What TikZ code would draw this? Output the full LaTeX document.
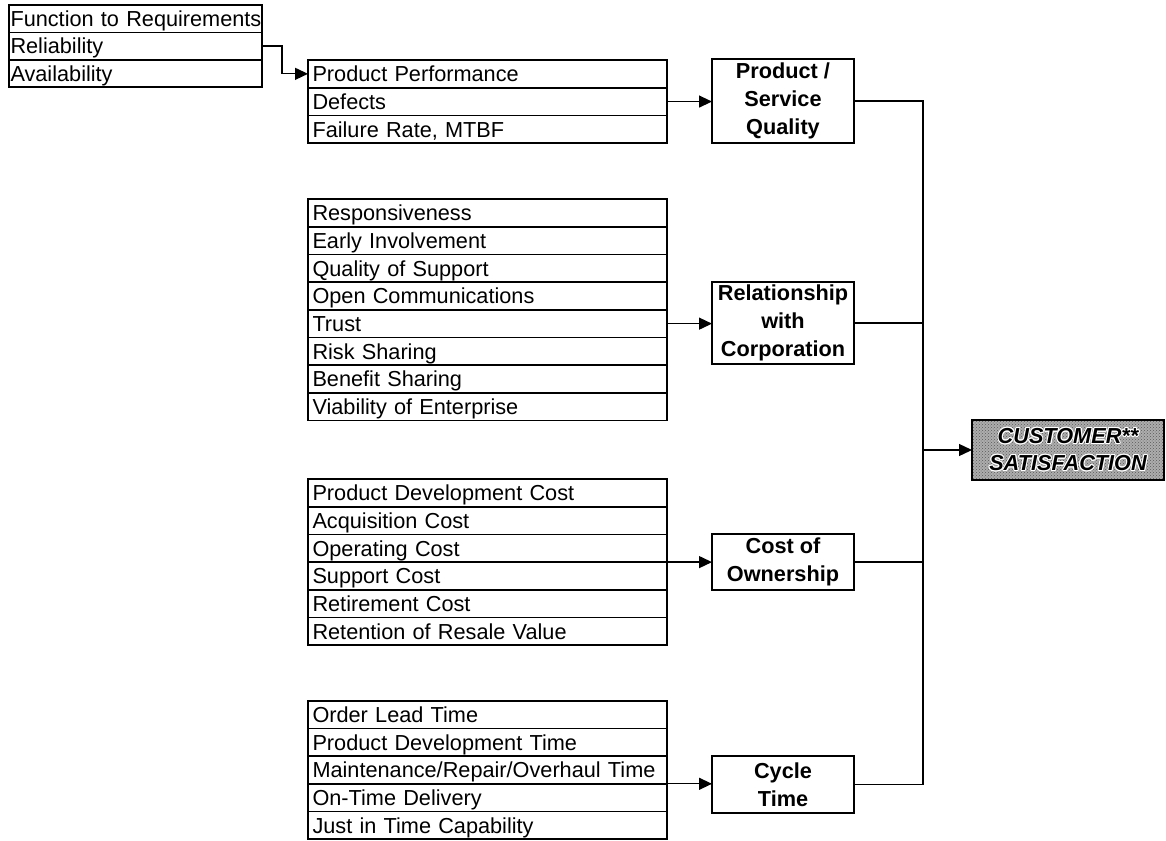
\documentclass[tikz,border=0pt]{standalone}
\usepackage{fontspec}
\setmainfont{Liberation Sans}
\usepackage{contour}
\contourlength{0.9pt}
\usetikzlibrary{arrows.meta,patterns}
\begin{document}
\begin{tikzpicture}[x=1pt,y=-1pt,
  every node/.style={font=\fontsize{21.7}{27.7}\selectfont},
  listrow/.style={draw, line width=1.7pt, rectangle, inner xsep=#1, inner ysep=0pt,
    outer sep=0pt, minimum height=27.7pt, text height=15.6pt, text depth=0pt,
    align=left, anchor=north west},
  wide/.style={listrow=4.5pt, text width=350pt},
  narrow/.style={listrow=1.5pt, text width=250pt, minimum height=27.4pt},
  mainbox/.style={draw, line width=2pt, rectangle, minimum width=142pt, inner sep=0pt,
    outer sep=0pt, align=center, font=\fontsize{21.7}{27.7}\selectfont\bfseries},
  link/.style={line width=1.3pt},
  arr/.style={link, -{Triangle[length=13pt,width=12pt]}}]

% canvas
\path[use as bounding box, fill=white] (0,0) rectangle (1166,840);

% attribute lists
\foreach \t [count=\i] in {Function to Requirements, Reliability, Availability}
  \node[narrow] (tl\i) at (9,{5+(\i-1)*27.4}) {\mbox{\t}};

\foreach \t [count=\i] in {Product Performance, Defects, {Failure Rate, MTBF}}
  \node[wide] (pq\i) at (308,{60+(\i-1)*27.7}) {\t};

\foreach \t [count=\i] in {Responsiveness, Early Involvement, Quality of Support,
    Open Communications, Trust, Risk Sharing, Benefit Sharing, Viability of Enterprise}
  \node[wide] (rl\i) at (308,{199+(\i-1)*27.7}) {\t};

\foreach \t [count=\i] in {Product Development Cost, Acquisition Cost, Operating Cost,
    Support Cost, Retirement Cost, Retention of Resale Value}
  \node[wide] (co\i) at (308,{479+(\i-1)*27.7}) {\t};

\foreach \t [count=\i] in {Order Lead Time, Product Development Time,
    Maintenance/Repair/Overhaul Time, On-Time Delivery, Just in Time Capability}
  \node[wide, minimum height=27.6pt] (cy\i) at (308,{701+(\i-1)*27.6}) {\t};

% category boxes
\node[mainbox, minimum height=84pt] (psq) at (783,101) {Product /\\Service\\Quality};
\node[mainbox, minimum height=82pt] (rel) at (783,323) {Relationship\\with\\Corporation};
\node[mainbox, minimum height=56pt] (cost) at (783,562) {Cost of\\Ownership};
\node[mainbox, minimum height=57pt] (cyc) at (783,784.5) {Cycle\\Time};

% result box
\node[draw, line width=2pt, rectangle, minimum width=192pt, minimum height=60pt,
  inner sep=0pt, outer sep=0pt, align=center,
  preaction={fill=black!32}, pattern=crosshatch dots, pattern color=black!65,
  font=\fontsize{21.7}{27}\selectfont\bfseries\itshape]
  (cust) at (1068,450) {\contour{white}{CUSTOMER**}\\\contour{white}{SATISFACTION}};

% connectors
\draw[arr] (tl2.east) -- ++(20,0) |- (pq1.west);
\draw[arr] (pq2.east) -- (pq2.east -| psq.west);
\draw[arr] (rl5.east) -- (rl5.east -| rel.west);
\draw[arr] (co3.south east) -- (co3.south east -| cost.west);
\draw[arr] (cy3.south east) -- (cy3.south east -| cyc.west);

\path (psq.east) ++(69,0) coordinate (bustop);
\draw[link] (psq.east) -- (bustop) |- (cyc.east);
\draw[link] (rel.east) -- (rel.east -| bustop);
\draw[link] (cost.east) -- (cost.east -| bustop);
\draw[arr] (cust.west -| bustop) -- (cust.west);
\end{tikzpicture}
\end{document}
